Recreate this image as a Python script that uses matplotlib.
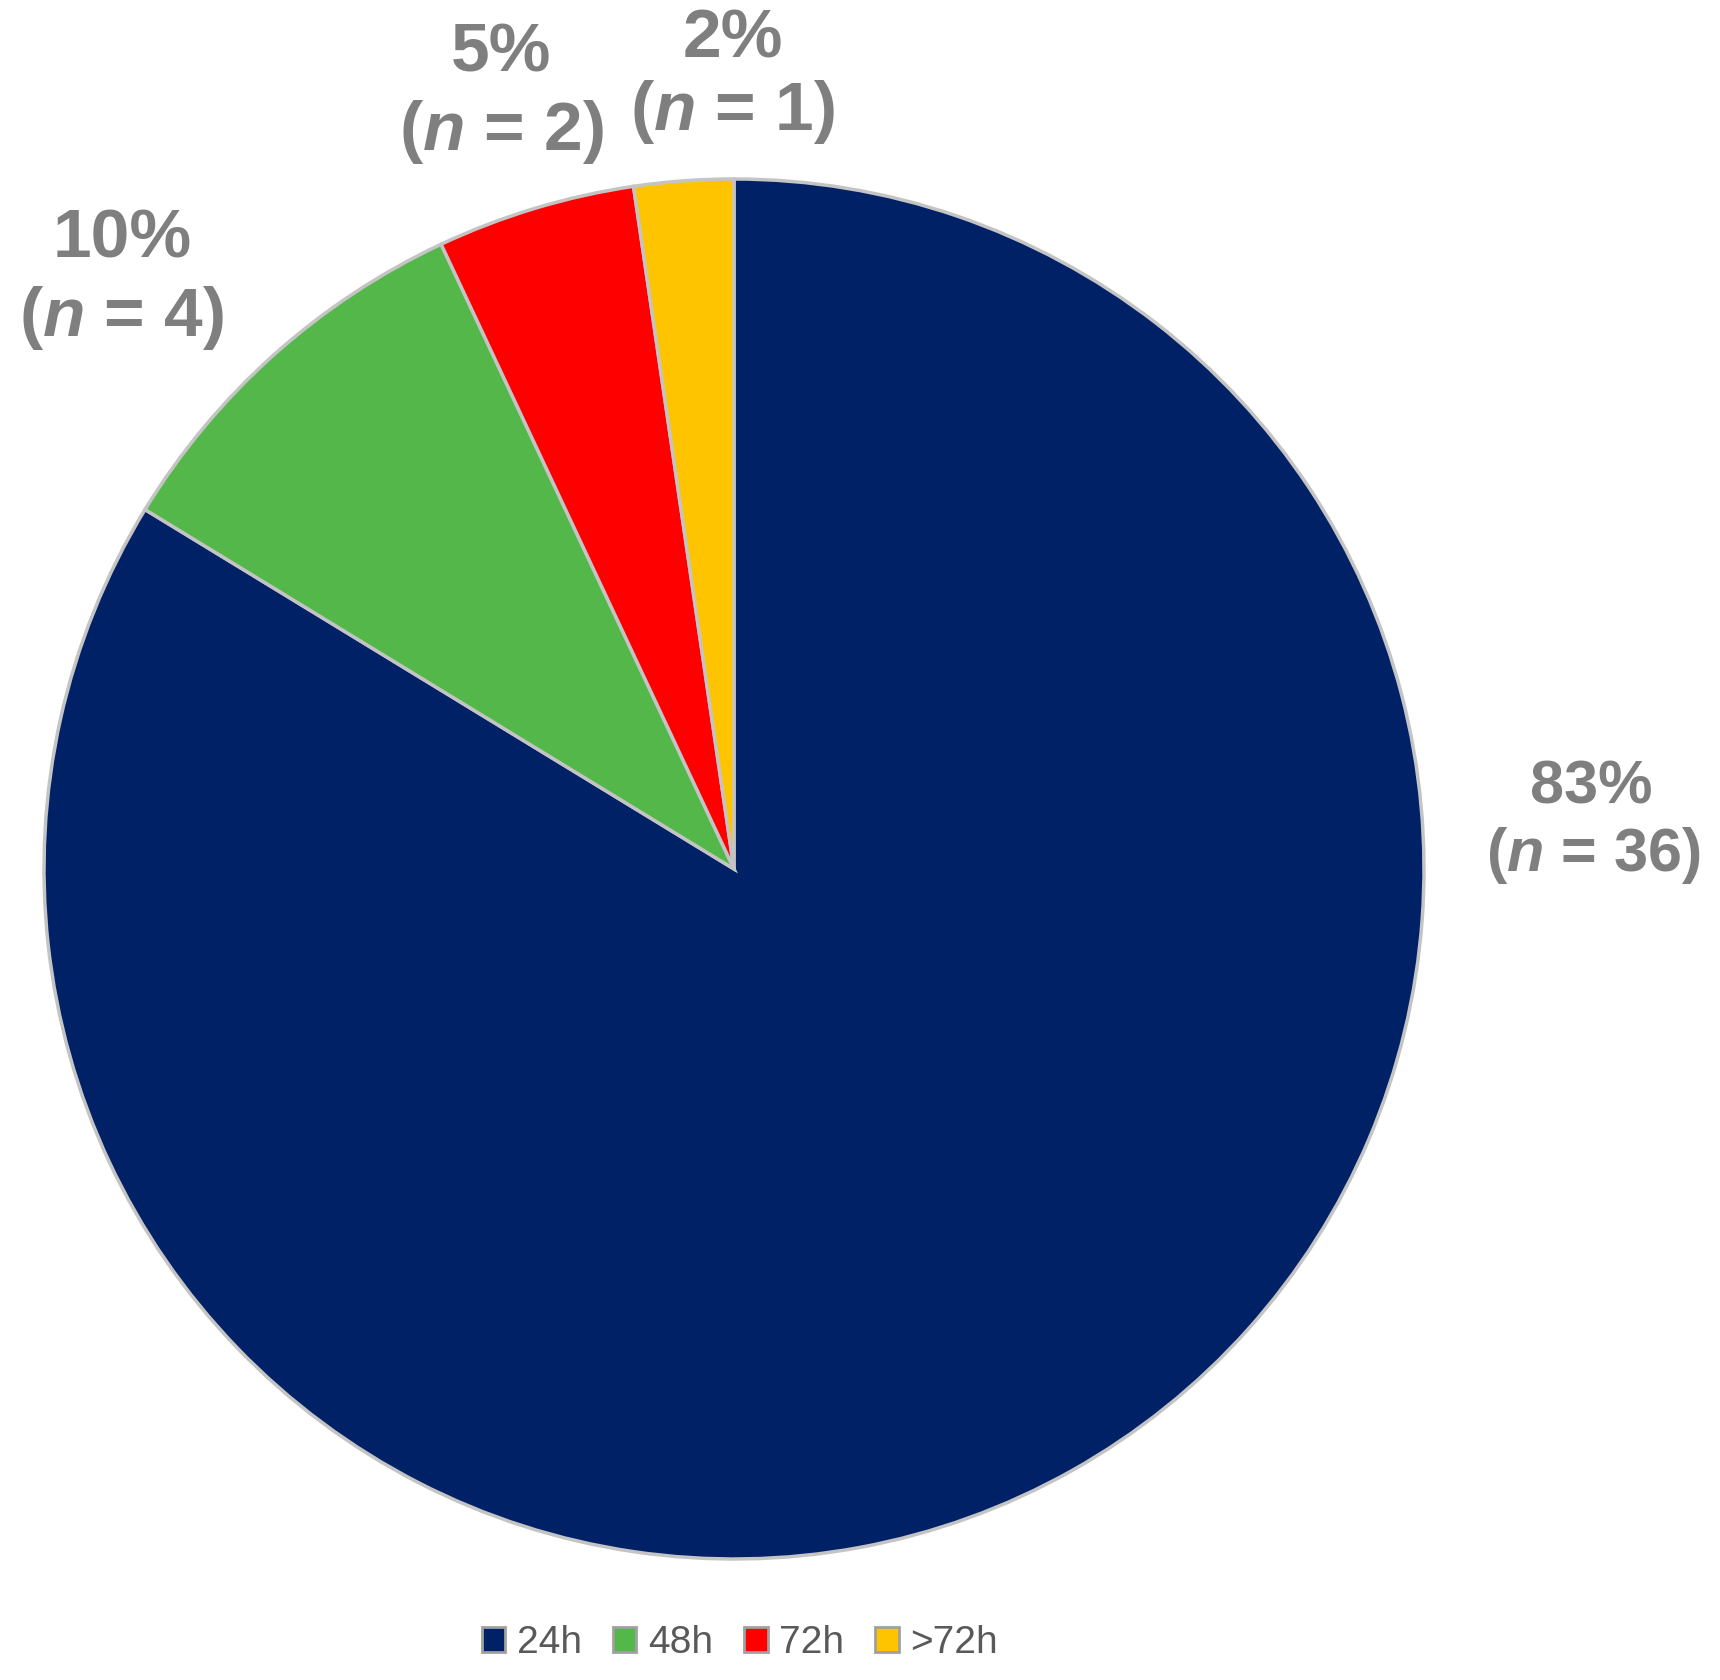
import matplotlib
matplotlib.use("Agg")
import matplotlib.pyplot as plt

# ---- data ----
categories = ["24h", "48h", "72h", ">72h"]
counts = [36, 4, 2, 1]
pct_labels = ["83%", "10%", "5%", "2%"]
colors = ["#002166", "#53b849", "#ff0000", "#ffc400"]

plt.rcParams['mathtext.fontset'] = 'custom'
plt.rcParams['mathtext.it'] = 'Liberation Sans:italic:bold'
plt.rcParams['mathtext.rm'] = 'Liberation Sans:bold'

W, H = 1720, 1680
fig = plt.figure(figsize=(W / 100, H / 100), dpi=100)
ax = fig.add_axes([0, 0, 1, 1])

cx, cy, r = 734, H - 869, 690
wedges, _ = ax.pie(counts, colors=colors, startangle=90, counterclock=False,
                   center=(cx, cy), radius=r, frame=True,
                   wedgeprops=dict(edgecolor="#c4c4c4", linewidth=2.5))
ax.set_xlim(0, W)
ax.set_ylim(0, H)
ax.set_aspect('equal')
ax.axis('off')

label_pos = [((1591, 788), (1593, 856)),
             ((122, 239), (122, 318)),
             ((501, 53), (502, 132)),
             ((733, 40), (733, 112))]
sizes = [44, 50, 50, 50]
gray = "#7f7f7f"
for i in range(len(counts)):
    (x1, y1), (x2, y2) = label_pos[i]
    ax.text(x1, H - y1, pct_labels[i], ha='center', va='center',
            fontsize=sizes[i], fontweight='bold', color=gray, family='Liberation Sans')
    ax.text(x2, H - y2, "(" + r"$\mathit{n}$" + f" = {counts[i]})", ha='center', va='center',
            fontsize=sizes[i], fontweight='bold', color=gray, family='Liberation Sans')

leg = fig.legend(wedges, categories, loc='center', bbox_to_anchor=(740 / W, 1 - 1643 / H),
                 ncol=4, frameon=False, prop={'family': 'Liberation Sans', 'size': 28},
                 handlelength=0.6, handleheight=0.6,
                 handletextpad=0.3, columnspacing=0.8, labelcolor="#595959")
for h in leg.legend_handles:
    h.set_edgecolor("#a0a0a0")
    h.set_linewidth(2)

fig.savefig("out.png", dpi=100, facecolor="white")
